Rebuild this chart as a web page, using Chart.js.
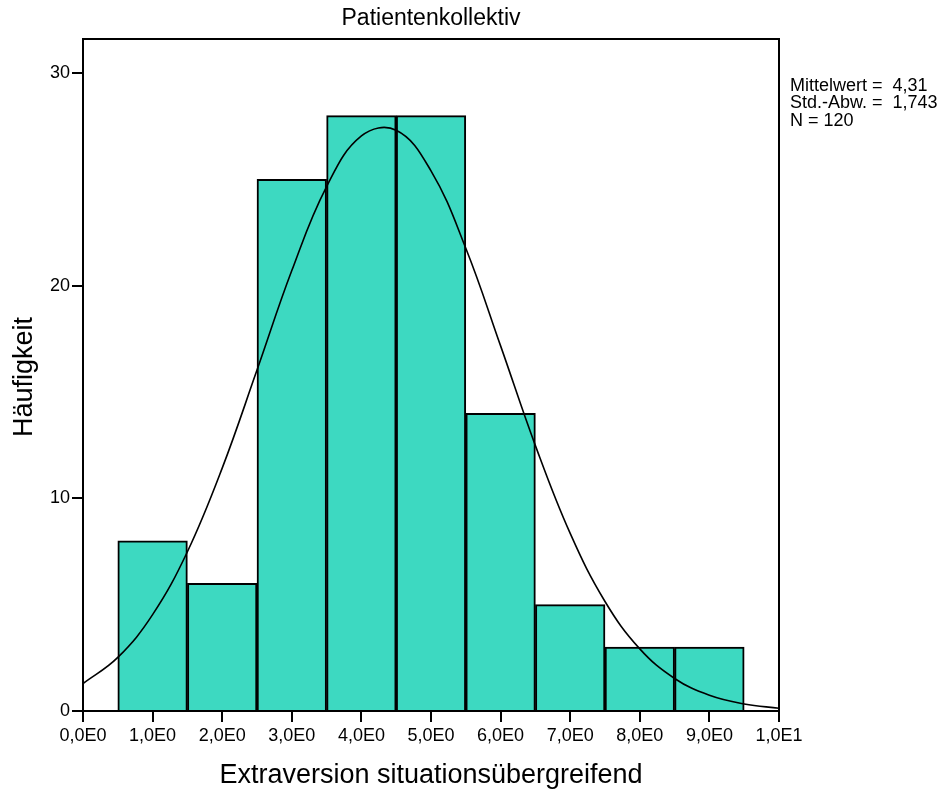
<!DOCTYPE html>
<html>
<head>
<meta charset="utf-8">
<script src="https://cdn.jsdelivr.net/npm/chart.js@4"></script>
<style>
  html, body { margin: 0; padding: 0; background: #fff; }
  #wrap { width: 947px; height: 794px; }
</style>
</head>
<body>
<div id="wrap"><canvas id="hist"></canvas></div>
<script>
// histogram bins (centres) and counts
const binCenters = [1, 2, 3, 4, 5, 6, 7, 8, 9];
const counts = [8, 6, 25, 28, 28, 14, 5, 3, 3];

// normal curve
const curveX = [0, 0.5, 1, 1.5, 2, 2.5, 3, 3.5, 4, 4.5, 5, 5.5, 6, 6.5, 7, 7.5, 8, 8.5, 9, 9.5, 10];
const curveY = [1.29, 2.52, 4.53, 7.49, 11.42, 16.03, 20.71, 24.66, 27.04, 27.31, 25.40, 21.76, 17.17, 12.48, 8.35, 5.15, 2.92, 1.53, 0.74, 0.33, 0.13];

const yTicks = [0, 10, 20, 30];
const statLines = ["Mittelwert =  4,31", "Std.-Abw. =  1,743", "N = 120"];

const FONT = "'Liberation Sans', Arial, sans-serif";

const textPlugin = {
  id: 'texts',
  afterDraw(chart) {
    const ctx = chart.ctx;
    const a = chart.chartArea;
    ctx.save();
    // frame
    ctx.strokeStyle = '#000';
    ctx.lineWidth = 2;
    ctx.strokeRect(a.left, a.top, a.right - a.left, a.bottom - a.top);
    ctx.fillStyle = '#000';
    // title
    ctx.font = '23px ' + FONT;
    ctx.textAlign = 'center';
    ctx.textBaseline = 'middle';
    ctx.fillText('Patientenkollektiv', (a.left + a.right) / 2, 19);
    // x title
    ctx.font = '27px ' + FONT;
    ctx.fillText('Extraversion situationsübergreifend', (a.left + a.right) / 2, 776);
    // y title
    ctx.save();
    ctx.translate(25, 377);
    ctx.rotate(-Math.PI / 2);
    ctx.fillText('Häufigkeit', 0, 0);
    ctx.restore();
    // stats
    ctx.font = '18px ' + FONT;
    ctx.textAlign = 'left';
    statLines.forEach((s, i) => ctx.fillText(s, 790, 86 + i * 17.5));
    ctx.restore();
  }
};

new Chart(document.getElementById('hist'), {
  type: 'bar',
  data: {
    datasets: [
      {
        type: 'line',
        data: curveX.map((x, i) => ({ x: x, y: curveY[i] })),
        borderColor: '#000',
        borderWidth: 1.6,
        pointRadius: 0,
        tension: 0.4,
        fill: false,
        order: 0
      },
      {
        type: 'bar',
        data: binCenters.map((x, i) => ({ x: x, y: counts[i] })),
        backgroundColor: '#3dd9c1',
        borderColor: '#000',
        borderWidth: 2,
        barPercentage: 1,
        categoryPercentage: 1,
        order: 1
      }
    ]
  },
  options: {
    responsive: true,
    maintainAspectRatio: false,
    animation: false,
    layout: { padding: { top: 39, right: 168, left: 0, bottom: 0 } },
    plugins: { legend: { display: false }, tooltip: { enabled: false }, title: { display: false } },
    scales: {
      x: {
        type: 'linear',
        min: 0,
        max: 10,
        offset: false,
        afterFit(scale) { scale.height = 83; },
        grid: { drawOnChartArea: false, drawTicks: true, tickLength: 11, color: '#000', lineWidth: 2, offset: false },
        border: { display: true, color: '#000', width: 2 },
        ticks: {
          stepSize: 1,
          padding: 3,
          maxRotation: 0,
          color: '#000',
          font: { family: FONT, size: 18 },
          callback: (v) => v === 10 ? '1,0E1' : (v.toFixed(1).replace('.', ',') + 'E0')
        }
      },
      y: {
        min: 0,
        max: 31.6,
        afterFit(scale) { scale.width = 83; },
        afterBuildTicks(scale) { scale.ticks = yTicks.map(v => ({ value: v })); },
        grid: { drawOnChartArea: false, drawTicks: true, tickLength: 11, color: '#000', lineWidth: 2 },
        border: { display: true, color: '#000', width: 2 },
        ticks: {
          padding: 2,
          color: '#000',
          font: { family: FONT, size: 18 }
        }
      }
    }
  },
  plugins: [textPlugin]
});
</script>
</body>
</html>
